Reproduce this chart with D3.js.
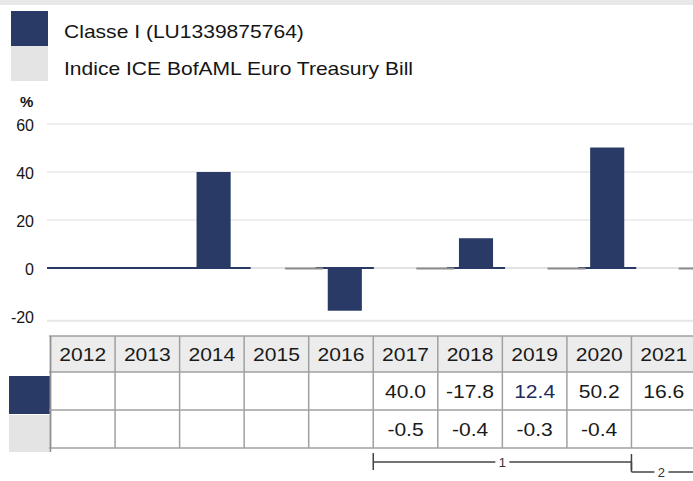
<!DOCTYPE html>
<html><head><meta charset="utf-8">
<script src="https://cdn.jsdelivr.net/npm/d3@7"></script>
<style>
html,body{margin:0;padding:0;background:#fff;}
svg{display:block;font-family:"Liberation Sans",Arial,sans-serif;}
</style></head>
<body>
<svg id="c" width="693" height="481"></svg>
<script>
// ---- data ----
const seriesNames = ["Classe I (LU1339875764)", "Indice ICE BofAML Euro Treasury Bill"];
const seriesColors = ["#2a3a66", "#e4e4e4"];
const tableYears = ["2012","2013","2014","2015","2016","2017","2018","2019","2020","2021"];
const fundYears = ["2017","2018","2019","2020","2021"];
const fundValues = [40.0, -17.8, 12.4, 50.2, 16.6];
const indexYears = ["2017","2018","2019","2020"];
const indexValues = [-0.5, -0.4, -0.3, -0.4];
const yTicks = [60, 40, 20, 0, -20];
const periodLabels = ["1", "2"];
const periodStart = ["2017", "2021"];
const periodEnd = ["2020", "2021"];

const svg = d3.select("#c");
const SX = 1.17; // horizontal stretch of text as in reference
function stext(g, x, y, str, anchor, size, color, weight){
  return g.append("text")
    .attr("transform", `translate(${x},${y}) scale(${SX},1)`)
    .attr("text-anchor", anchor || "start")
    .attr("font-size", size || 18)
    .attr("font-weight", weight || "normal")
    .attr("fill", color || "#1a1a1a")
    .text(str);
}

// top strip
svg.append("rect").attr("x",0).attr("y",0).attr("width",693).attr("height",5).attr("fill","#e8e8e8");

// legend
const lg = svg.append("g");
seriesNames.forEach((n,i)=>{
  lg.append("rect").attr("x",11).attr("y",11+i*35).attr("width",37).attr("height",35).attr("fill",seriesColors[i]);
  stext(lg, 64, 38+i*37, n, "start", 18, "#151515");
});

// y scale
const y = d3.scaleLinear().domain([-22, 60]).range([320.8, 124]);
const plotL = 47, plotR = 693;

// gridlines
svg.append("g").selectAll("line").data(yTicks.filter(t=>t>0)).join("line")
  .attr("x1",plotL).attr("x2",plotR).attr("y1",d=>y(d)).attr("y2",d=>y(d))
  .attr("stroke","#efefef").attr("stroke-width",2);
svg.append("line").attr("x1",plotL).attr("x2",plotR).attr("y1",y(-22)).attr("y2",y(-22))
  .attr("stroke","#e6e6e6").attr("stroke-width",2);

// y axis labels
svg.append("text").attr("x",20).attr("y",107).attr("font-size",15).attr("font-weight","bold").attr("fill","#111").text("%");
svg.append("g").selectAll("text").data(yTicks).join("text")
  .attr("x",34).attr("y",d=>y(d)+1.5).attr("dy","0.35em").attr("text-anchor","end")
  .attr("font-size",16).attr("fill","#151515").text(d=>String(d));

// x scale for bars
const x = d3.scaleBand().domain(fundYears).range([148, 804]).paddingInner(0.74).paddingOuter(0.37);
const bw = x.bandwidth();
const step = x.step();

const plot = svg.append("g");
// baseline
plot.append("line").attr("x1",plotL).attr("x2",plotR).attr("y1",y(0)).attr("y2",y(0))
  .attr("stroke","#e2e2e2").attr("stroke-width",2);
// navy zero segments (leading and under bars)
plot.append("line").attr("x1",plotL).attr("x2",x(fundYears[0])+bw+20).attr("y1",y(0)).attr("y2",y(0))
  .attr("stroke",seriesColors[0]).attr("stroke-width",2);
plot.selectAll("line.nb").data(fundYears).join("line").attr("class","nb")
  .attr("x1",d=>x(d)-12).attr("x2",d=>x(d)+bw+12).attr("y1",y(0)).attr("y2",y(0))
  .attr("stroke",seriesColors[0]).attr("stroke-width",2);
// index bars (tiny)
plot.selectAll("rect.ib").data(indexValues).join("rect").attr("class","ib")
  .attr("x",(d,i)=>x(indexYears[i])+bw/2+step*0.69-19)
  .attr("width",38)
  .attr("y",y(0)-0.5)
  .attr("height",d=>Math.max(2, y(d)-y(0)))
  .attr("fill","#8c8c8c");
// fund bars
plot.selectAll("rect.fb").data(fundValues).join("rect").attr("class","fb")
  .attr("x",(d,i)=>x(fundYears[i]))
  .attr("width",bw)
  .attr("y",d=>y(Math.max(0,d)))
  .attr("height",d=>Math.abs(y(d)-y(0)))
  .attr("fill",seriesColors[0]);

// table
const tx = d3.scaleBand().domain(tableYears).range([50.5, 696]);
const rowY = [336, 372, 410, 448];
const tg = svg.append("g");
tg.append("rect").attr("x",50.5).attr("y",rowY[0]).attr("width",645).attr("height",rowY[1]-rowY[0]).attr("fill","#ececec");
// swatches
tg.append("rect").attr("x",9).attr("y",376).attr("width",41).attr("height",38).attr("fill",seriesColors[0]);
tg.append("rect").attr("x",9).attr("y",415).attr("width",41).attr("height",37).attr("fill",seriesColors[1]);
// horizontal lines
tg.selectAll("line.h").data(rowY).join("line").attr("class","h")
  .attr("x1",49).attr("x2",693).attr("y1",d=>d).attr("y2",d=>d)
  .attr("stroke","#a0a0a0").attr("stroke-width",1.5);
// vertical lines
tg.selectAll("line.v").data(tableYears).join("line").attr("class","v")
  .attr("x1",d=>tx(d)).attr("x2",d=>tx(d)).attr("y1",rowY[0]).attr("y2",rowY[3])
  .attr("stroke","#a0a0a0").attr("stroke-width",1.5);
tg.append("line").attr("x1",tx(tableYears[0])).attr("x2",tx(tableYears[0])).attr("y1",rowY[0]).attr("y2",452)
  .attr("stroke","#909090").attr("stroke-width",1.5);
// headers
tableYears.forEach(yr=>{
  stext(tg, tx(yr)+tx.bandwidth()/2, 361, yr, "middle", 18, "#1a1a1a");
});
const fmt = v => d3.format(".1f")(v).replace("\u2212", "-");
fundValues.forEach((v,i)=>{
  stext(tg, tx(fundYears[i])+tx.bandwidth()/2, 398, fmt(v), "middle", 18, fundYears[i]==="2019" ? "#1e2d5c" : "#1a1a1a");
});
indexValues.forEach((v,i)=>{
  stext(tg, tx(indexYears[i])+tx.bandwidth()/2, 436, fmt(v), "middle", 18, "#1a1a1a");
});

// period brackets
const bg = svg.append("g").attr("stroke","#444").attr("stroke-width",1.5);
const bY = [462, 472];
periodLabels.forEach((lab,i)=>{
  const x0 = tx(periodStart[i]);
  const xEnd = tx(periodEnd[i]) + tx.bandwidth();
  const x1 = Math.min(693, xEnd);
  const yy = bY[i];
  const mid = i===0 ? (x0 + xEnd)/2 : x0 + 30;
  bg.append("line").attr("x1",x0).attr("x2",mid-7).attr("y1",yy).attr("y2",yy);
  bg.append("line").attr("x1",mid+7).attr("x2",x1).attr("y1",yy).attr("y2",yy);
  bg.append("line").attr("x1",x0).attr("x2",x0).attr("y1",i===0?yy-9:462).attr("y2",yy+(i===0?8:0));
  if(i===0) bg.append("line").attr("x1",x1).attr("x2",x1).attr("y1",yy-8).attr("y2",yy+8);
  svg.append("text").attr("x",mid).attr("y",yy).attr("dy","0.35em").attr("text-anchor","middle")
    .attr("font-size",13).attr("fill","#333").text(lab);
});
</script>
</body></html>
